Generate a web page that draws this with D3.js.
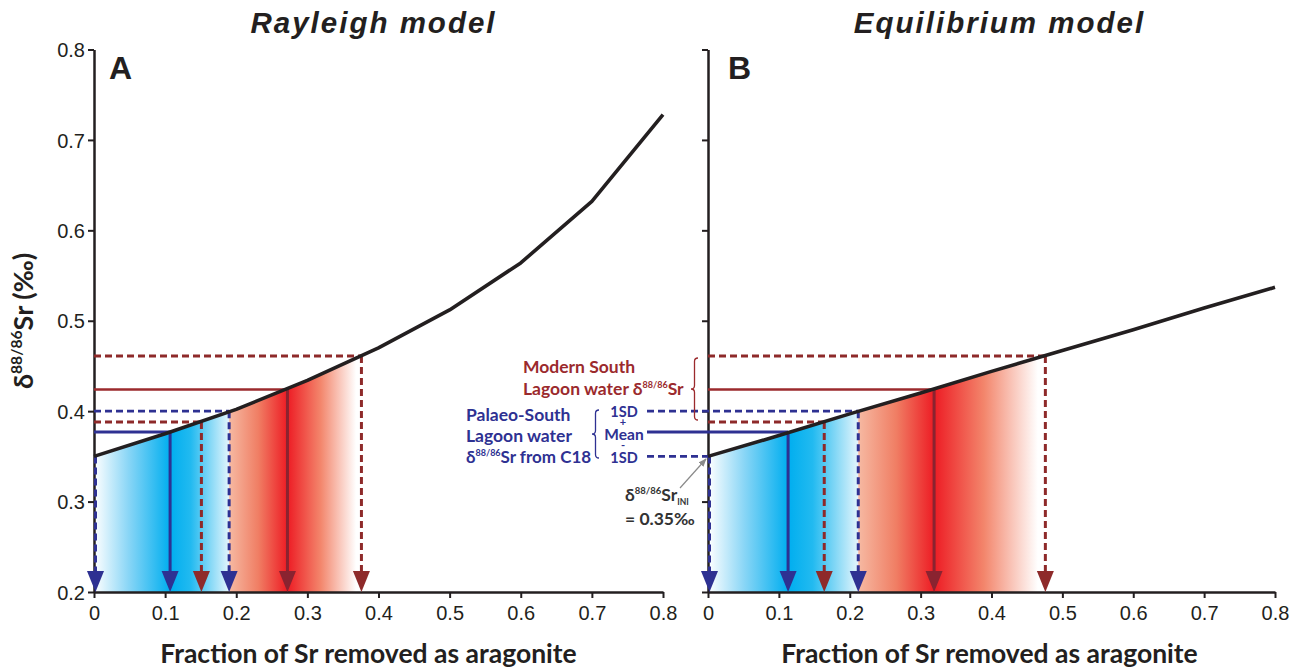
<!DOCTYPE html>
<html>
<head>
<meta charset="utf-8">
<script src="https://cdn.jsdelivr.net/npm/d3@7"></script>
<style>
  html, body { margin: 0; padding: 0; background: #fff; }
  svg { display: block; }
</style>
</head>
<body>
<svg id="chart" width="1305" height="668"></svg>
<script>
// ---------------- DATA ----------------
const xTicks = [0, 0.1, 0.2, 0.3, 0.4, 0.5, 0.6, 0.7, 0.8];
const yTicks = [0.2, 0.3, 0.4, 0.5, 0.6, 0.7, 0.8];

// Fraction of Sr removed as aragonite (curve sample points)
const fraction = [0, 0.1, 0.2, 0.3, 0.4, 0.5, 0.6, 0.7, 0.8];
// Rayleigh model δ88/86Sr (‰)
const rayleighSr = [0.350, 0.375, 0.402, 0.434, 0.470, 0.512, 0.564, 0.632, 0.728];
// Equilibrium model δ88/86Sr (‰)
const equilibriumSr = [0.350, 0.373, 0.397, 0.420, 0.444, 0.467, 0.490, 0.514, 0.537];

// Palaeo-South Lagoon water (C18): -1SD, mean, +1SD
const palaeoSr = [0.350, 0.377, 0.400];
// Modern South Lagoon water: low, mean, high
const modernSr = [0.388, 0.424, 0.461];

// Fractions where those values meet each model curve
const palaeoFracRayleigh = [0, 0.107, 0.190];
const modernFracRayleigh = [0.151, 0.272, 0.376];
const palaeoFracEquil = [0, 0.113, 0.212];
const modernFracEquil = [0.164, 0.319, 0.476];

const titles = ["Rayleigh model", "Equilibrium model"];
const panelLetters = ["A", "B"];

// ---------------- STYLE ----------------
const BLUE = "#2E3192";
const RED = "#8E2A2A";
const RED_SOLID = "#8A2330";
const INK = "#231F20";
const DASH = "7,4";

const svg = d3.select("#chart");
const defs = svg.append("defs");

const yTop = 49.5, yBottom = 592;
const panels = [
  { x0: 94, x1: 663, curve: rayleighSr, pFrac: palaeoFracRayleigh, mFrac: modernFracRayleigh, labels: true, id: "a", tOff: -5, lOff: -10 },
  { x0: 708, x1: 1275, curve: equilibriumSr, pFrac: palaeoFracEquil, mFrac: modernFracEquil, labels: false, id: "b", tOff: 8, lOff: -2 }
];

function interp(xs, ys, x) {
  for (let i = 0; i < xs.length - 1; i++) {
    if (x >= xs[i] && x <= xs[i + 1]) {
      const t = (x - xs[i]) / (xs[i + 1] - xs[i]);
      return ys[i] + t * (ys[i + 1] - ys[i]);
    }
  }
  return ys[ys.length - 1];
}

// segments: {t, sup|sub, size}; baseline shifts handled by dy on following segment
function richText(sel, segs, baseSize) {
  let shift = 0;
  segs.forEach(s => {
    let target = 0, size = baseSize;
    if (s.sup) { target = -baseSize * 0.42; size = s.size || baseSize * 0.58; }
    if (s.sub) { target = baseSize * 0.22; size = s.size || baseSize * 0.55; }
    const ts = sel.append("tspan").attr("font-size", size).text(s.t);
    if (target !== shift) ts.attr("dy", target - shift);
    shift = target;
  });
}

function brace(x, yT, yB, w) {
  const xm = x - w / 2, xt = x - w, ym = (yT + yB) / 2, r = w / 2;
  return `M${x},${yT} Q${xm},${yT} ${xm},${yT + r} L${xm},${ym - r} Q${xm},${ym} ${xt},${ym}` +
         ` Q${xm},${ym} ${xm},${ym + r} L${xm},${yB - r} Q${xm},${yB} ${x},${yB}`;
}

panels.forEach((p, idx) => {
  const x = d3.scaleLinear().domain([0, 0.8]).range([p.x0, p.x1]);
  const y = d3.scaleLinear().domain([0.2, 0.8]).range([yBottom, yTop]);
  const g = svg.append("g");

  // ---- gradient areas ----
  const areaGen = d3.area().x(d => x(d[0])).y0(y(0.2)).y1(d => y(d[1]));
  function areaPts(a, b) {
    const pts = [[a, interp(fraction, p.curve, a)]];
    fraction.forEach((f, i) => { if (f > a && f < b) pts.push([f, p.curve[i]]); });
    pts.push([b, interp(fraction, p.curve, b)]);
    return pts;
  }
  const bStart = p.pFrac[0], bEnd = p.pFrac[2];
  const gb = defs.append("linearGradient").attr("id", "blue" + p.id)
    .attr("gradientUnits", "userSpaceOnUse")
    .attr("x1", x(bStart)).attr("x2", x(bEnd)).attr("y1", 0).attr("y2", 0);
  const bMid = (p.pFrac[1] - bStart) / (bEnd - bStart);
  gb.append("stop").attr("offset", 0).attr("stop-color", "#FFFFFF");
  gb.append("stop").attr("offset", bMid * 0.45).attr("stop-color", "#8AD6F6");
  gb.append("stop").attr("offset", bMid).attr("stop-color", "#00AEEF");
  gb.append("stop").attr("offset", bMid + (1 - bMid) * 0.35).attr("stop-color", "#22BAF0");
  gb.append("stop").attr("offset", 1).attr("stop-color", "#E4F5FC");
  g.append("path").attr("d", areaGen(areaPts(bStart, bEnd))).attr("fill", `url(#blue${p.id})`);

  const rStart = p.pFrac[2], rEnd = p.mFrac[2];
  const gr = defs.append("linearGradient").attr("id", "red" + p.id)
    .attr("gradientUnits", "userSpaceOnUse")
    .attr("x1", x(rStart)).attr("x2", x(rEnd)).attr("y1", 0).attr("y2", 0);
  const rMid = (p.mFrac[1] - rStart) / (rEnd - rStart);
  gr.append("stop").attr("offset", 0).attr("stop-color", "#F6B9A2");
  gr.append("stop").attr("offset", rMid * 0.5).attr("stop-color", "#F07E64");
  gr.append("stop").attr("offset", rMid).attr("stop-color", "#ED1C24");
  gr.append("stop").attr("offset", rMid + (1 - rMid) * 0.45).attr("stop-color", "#F3866C");
  gr.append("stop").attr("offset", 0.96).attr("stop-color", "#FFFFFF");
  g.append("path").attr("d", areaGen(areaPts(rStart, rEnd))).attr("fill", `url(#red${p.id})`);

  // ---- axes ----
  const yAxis = d3.axisLeft(y).tickValues(yTicks).tickSize(6).tickSizeOuter(0)
    .tickFormat(d3.format(".1f"));
  const ya = g.append("g").attr("transform", `translate(${p.x0},0)`).call(yAxis);
  const xAxis = d3.axisBottom(x).tickValues(xTicks).tickSize(6).tickSizeOuter(0)
    .tickFormat(d => d === 0 ? "0" : d3.format(".1f")(d));
  const xa = g.append("g").attr("transform", `translate(0,${yBottom})`).call(xAxis);
  [ya, xa].forEach(a => {
    a.select(".domain").attr("stroke", INK).attr("stroke-width", 2.5);
    a.selectAll(".tick line").attr("stroke", INK).attr("stroke-width", 2);
    a.selectAll(".tick text").attr("fill", INK).attr("font-family", "Liberation Sans, Arial, sans-serif")
      .attr("font-size", 20);
  });
  ya.selectAll(".tick text").attr("x", -9).attr("dy", "0.36em");
  if (!p.labels) ya.selectAll(".tick text").remove();
  xa.selectAll(".tick text").attr("y", 14).attr("dy", "0.71em");

  // ---- horizontal reference lines ----
  const leadX = idx === 1 ? 647 : p.x0;   // palaeo lines extend to labels in panel B
  const hLines = [
    { v: modernSr[2], f: p.mFrac[2], c: RED, dash: true, w: 2.8, from: p.x0 },
    { v: modernSr[1], f: p.mFrac[1], c: "#9B2A2D", dash: false, w: 2.6, from: p.x0 },
    { v: palaeoSr[2], f: p.pFrac[2], c: BLUE, dash: true, w: 2.8, from: leadX },
    { v: modernSr[0], f: p.mFrac[0], c: RED, dash: true, w: 2.8, from: p.x0 },
    { v: palaeoSr[1], f: p.pFrac[1], c: BLUE, dash: false, w: 3, from: leadX },
    { v: palaeoSr[0], f: p.pFrac[0], c: BLUE, dash: true, w: 2.8, from: leadX }
  ];
  hLines.forEach(h => {
    if (x(h.f) - h.from < 2) return;
    g.append("line").attr("x1", h.from).attr("x2", x(h.f)).attr("y1", y(h.v)).attr("y2", y(h.v))
      .attr("stroke", h.c).attr("stroke-width", h.w).attr("stroke-dasharray", h.dash ? DASH : null);
  });

  // ---- vertical arrows ----
  const vLines = [
    { v: palaeoSr[0], f: p.pFrac[0], c: BLUE, dash: true, off: 1.5 },
    { v: palaeoSr[1], f: p.pFrac[1], c: BLUE, dash: false, off: 0 },
    { v: modernSr[0], f: p.mFrac[0], c: RED, dash: true, off: 0 },
    { v: palaeoSr[2], f: p.pFrac[2], c: BLUE, dash: true, off: 0 },
    { v: modernSr[1], f: p.mFrac[1], c: RED_SOLID, dash: false, off: 0 },
    { v: modernSr[2], f: p.mFrac[2], c: RED, dash: true, off: 0 }
  ];
  const headW = 17, headH = 21;
  vLines.forEach(vl => {
    const xx = x(vl.f) + vl.off;
    g.append("line").attr("x1", xx).attr("x2", xx).attr("y1", y(vl.v)).attr("y2", yBottom - headH + 4)
      .attr("stroke", vl.c).attr("stroke-width", 3).attr("stroke-dasharray", vl.dash ? DASH : null);
    g.append("path")
      .attr("d", `M${xx - headW / 2},${yBottom - headH} L${xx + headW / 2},${yBottom - headH} L${xx},${yBottom} Z`)
      .attr("fill", vl.c);
  });

  // ---- model curve ----
  const line = d3.line().x((d, i) => x(fraction[i])).y(d => y(d));
  g.append("path").attr("d", line(p.curve)).attr("fill", "none")
    .attr("stroke", INK).attr("stroke-width", 3.6).attr("stroke-linejoin", "round");

  // ---- titles / letters ----
  svg.append("text").attr("x", (p.x0 + p.x1) / 2 + p.tOff).attr("y", 33).attr("text-anchor", "middle")
    .attr("font-family", "Liberation Sans, Arial, sans-serif").attr("font-weight", "bold")
    .attr("font-style", "italic").attr("font-size", 29.5).attr("letter-spacing", 2)
    .attr("fill", INK).text(titles[idx]);
  svg.append("text").attr("x", p.x0 + (idx === 0 ? 15 : 20)).attr("y", 79)
    .attr("font-family", "Liberation Sans, Arial, sans-serif").attr("font-weight", "bold")
    .attr("font-size", 32).attr("fill", INK).text(panelLetters[idx]);

  // ---- x axis label ----
  svg.append("text").attr("x", (p.x0 + p.x1) / 2 + p.lOff).attr("y", 663).attr("text-anchor", "middle")
    .attr("font-family", "Lato, 'Open Sans', sans-serif").attr("font-weight", "bold")
    .attr("font-size", 26.5).attr("fill", INK).text("Fraction of Sr removed as aragonite");
});

// ---- y axis label ----
const yl = svg.append("text").attr("transform", "translate(33,321) rotate(-90)")
  .attr("text-anchor", "middle").attr("font-family", "Lato, 'Open Sans', sans-serif")
  .attr("font-weight", "bold").attr("fill", INK);
richText(yl, [{ t: "δ" }, { t: "88/86", sup: true }, { t: "Sr (‰)" }], 27);

// ---- annotations ----
const annFont = "Lato, 'Open Sans', sans-serif";
const ANN_RED = "#9B2A2D";
function ann(xp, yp, segs, size, color, anchor) {
  const t = svg.append("text").attr("x", xp).attr("y", yp).attr("font-family", annFont)
    .attr("font-weight", "bold").attr("fill", color).attr("text-anchor", anchor || "start");
  richText(t, segs, size);
  return t;
}
ann(523, 373, [{ t: "Modern South" }], 17.5, ANN_RED);
ann(523, 395, [{ t: "Lagoon water δ" }, { t: "88/86", sup: true, size: 9 }, { t: "Sr" }], 17.5, ANN_RED);
ann(466, 421, [{ t: "Palaeo-South" }], 17.5, BLUE);
ann(466, 442, [{ t: "Lagoon water" }], 17.5, BLUE);
ann(466, 463, [{ t: "δ" }, { t: "88/86", sup: true, size: 9 }, { t: "Sr from C18" }], 17, BLUE);
ann(624, 417, [{ t: "1SD" }], 14.5, BLUE, "middle");
ann(623, 425.5, [{ t: "+" }], 11, BLUE, "middle");
ann(624, 439.5, [{ t: "Mean" }], 15.5, BLUE, "middle");
ann(623, 448.5, [{ t: "-" }], 11, BLUE, "middle");
ann(624, 463, [{ t: "1SD" }], 14.5, BLUE, "middle");
ann(625, 501, [{ t: "δ" }, { t: "88/86", sup: true, size: 9.5 }, { t: "Sr" }, { t: "INI", sub: true, size: 8.5 }], 17.5, "#333333");
ann(625, 525, [{ t: "= 0.35‰" }], 17.5, "#333333");

// braces
svg.append("path").attr("d", brace(698, 358, 420, 7)).attr("fill", "none")
  .attr("stroke", ANN_RED).attr("stroke-width", 1.3);
svg.append("path").attr("d", brace(599, 410, 458, 7)).attr("fill", "none")
  .attr("stroke", BLUE).attr("stroke-width", 1.3);

// pointer arrow to initial value
defs.append("marker").attr("id", "grayHead").attr("viewBox", "0 0 10 10").attr("refX", 9).attr("refY", 5)
  .attr("markerWidth", 7).attr("markerHeight", 7).attr("orient", "auto")
  .append("path").attr("d", "M0,1 L10,5 L0,9 Z").attr("fill", "#8a8a8a");
svg.append("line").attr("x1", 680).attr("y1", 488).attr("x2", 706).attr("y2", 459)
  .attr("stroke", "#8a8a8a").attr("stroke-width", 1.2).attr("marker-end", "url(#grayHead)");
</script>
</body>
</html>
